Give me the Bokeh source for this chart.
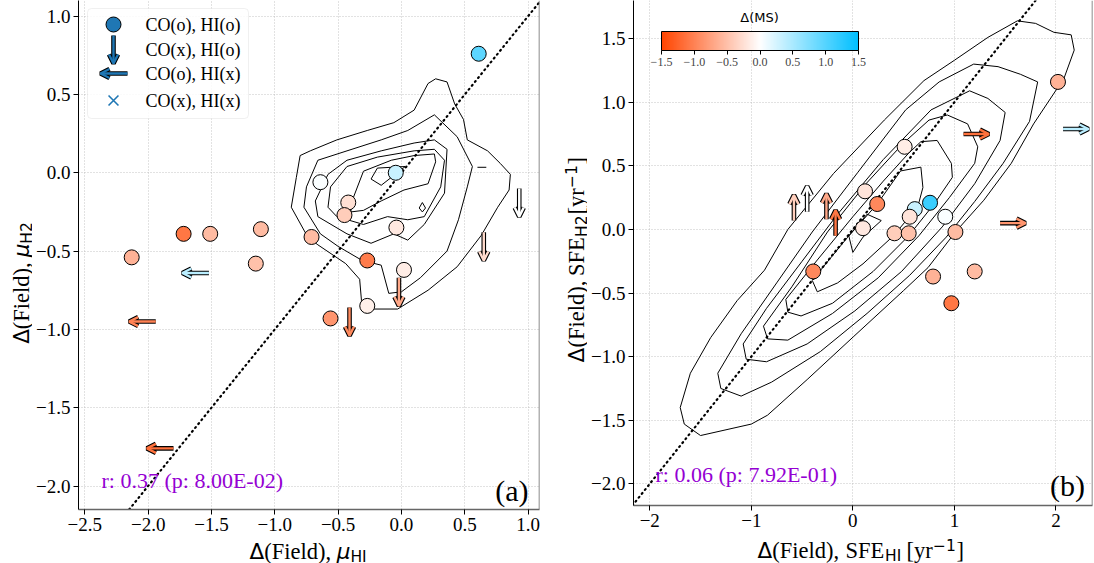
from bokeh.plotting import figure
from bokeh.layouts import row, column
from bokeh.models import (Range1d, FixedTicker, Label, Arrow, OpenHead, Span, Slope, ColorBar,
                          LinearColorMapper, BoxAnnotation, CustomJSTickFormatter, ColumnDataSource)
from bokeh.transform import linear_cmap
from bokeh.embed import file_html
from bokeh.resources import INLINE

SERIF = "Liberation Serif"
SANS = "DejaVu Sans"
BLUE = "#1f77b4"
STAT_COLOR = "#9400d3"
ROT = 1.5707963267948966

# ---------------------------------------------------------------- data
# Panel (a): offsets from the field relation, mu_HI vs mu_H2
a_det_hi = [0.61, -0.045, -0.64, -0.42, -0.45, -0.71, -0.04, -0.27, 0.02, -0.27, -0.56, -1.11, -1.15, -1.51, -1.72, -2.13]
a_det_h2 = [0.76, 0.00, -0.06, -0.19, -0.27, -0.41, -0.35, -0.56, -0.62, -0.85, -0.93, -0.36, -0.58, -0.39, -0.39, -0.54]
a_det_ms = [0.95, 0.32, 0.03, -0.25, -0.40, -0.55, -0.18, -1.05, -0.15, -0.12, -0.85, -0.55, -0.50, -0.55, -1.10, -0.62]
# CO non-detections (upper limits in H2)
a_coul_hi = [0.93, 0.65, -0.02, -0.41]
a_coul_h2 = [-0.10, -0.38, -0.67, -0.86]
a_coul_ms = [0.00, -0.30, -0.70, -0.95]
# HI non-detections (upper limits in HI)
a_hiul_hi = [-1.52, -1.94, -1.80]
a_hiul_h2 = [-0.64, -0.95, -1.76]
a_hiul_ms = [0.40, -1.00, -1.15]
a_stat = (0.37, 8.00e-02)

# Panel (b): offsets from the field relation, SFE_HI vs SFE_H2
b_det_hi = [2.02, 0.51, 0.12, 0.24, 0.61, 0.76, 0.56, 0.10, 0.41, 0.55, 0.91, 1.01, -0.39, 0.79, 1.20, 0.97]
b_det_h2 = [1.16, 0.65, 0.30, 0.20, 0.16, 0.21, 0.10, 0.01, -0.03, -0.03, 0.10, -0.02, -0.33, -0.37, -0.33, -0.58]
b_det_ms = [-0.62, -0.15, -0.22, -0.95, 0.32, 1.15, -0.22, -0.18, -0.40, -0.50, 0.03, -0.55, -0.95, -0.62, -0.55, -1.10]
# CO non-detections (lower limits in SFE_H2)
b_coul_hi = [-0.58, -0.45, -0.26, -0.17]
b_coul_h2 = [0.07, 0.14, 0.08, -0.05]
b_coul_ms = [-0.40, 0.00, -0.70, -1.10]
# HI non-detections (lower limits in SFE_HI)
b_hiul_hi = [1.09, 1.45, 2.07]
b_hiul_h2 = [0.75, 0.05, 0.79]
b_hiul_ms = [-1.15, -0.85, 0.40]
b_stat = (0.06, 7.92e-01)

# Field-sample density contours (outer to inner)
a_contour_x = [
    [0.27, 0.36, 0.42, 0.49, 0.52, 0.68, 0.78, 0.86, 0.85, 0.76, 0.63, 0.44, 0.21, -0.03, -0.31, -0.33, -0.44, -0.66, -0.74, -0.87, -0.83, -0.80, -0.72, -0.51, -0.27, -0.06, 0.10, 0.21, 0.27],
    [0.26, 0.44, 0.56, 0.52, 0.45, 0.36, 0.15, 0.00, -0.10, -0.16, -0.31, -0.50, -0.64, -0.77, -0.75, -0.66, -0.43, -0.16, 0.05, 0.26],
    [0.26, 0.36, 0.34, 0.18, 0.05, -0.06, -0.24, -0.43, -0.66, -0.68, -0.58, -0.43, -0.16, 0.10, 0.26],
    [0.26, 0.34, 0.31, 0.18, 0.05, -0.11, -0.30, -0.51, -0.58, -0.56, -0.43, -0.19, 0.10, 0.26],
    [0.26, 0.27, 0.21, 0.02, -0.16, -0.30, -0.40, -0.39, -0.30, -0.08, 0.10, 0.26],
    [-0.24, -0.19, 0.03, -0.16, -0.24],
    [0.165, 0.19, 0.165, 0.14, 0.165],
    [0.60, 0.67],
]
a_contour_y = [
    [0.60, 0.58, 0.44, 0.34, 0.21, 0.14, 0.06, -0.01, -0.11, -0.22, -0.40, -0.60, -0.75, -0.87, -0.87, -0.68, -0.58, -0.46, -0.41, -0.22, -0.03, 0.11, 0.14, 0.21, 0.27, 0.32, 0.40, 0.57, 0.60],
    [0.37, 0.23, 0.04, -0.09, -0.30, -0.50, -0.67, -0.76, -0.77, -0.59, -0.56, -0.47, -0.39, -0.22, -0.09, 0.08, 0.14, 0.21, 0.27, 0.37],
    [0.21, 0.15, -0.13, -0.33, -0.43, -0.39, -0.45, -0.39, -0.28, -0.18, -0.01, 0.08, 0.14, 0.19, 0.21],
    [0.15, 0.08, -0.09, -0.28, -0.30, -0.28, -0.33, -0.28, -0.22, -0.09, 0.04, 0.10, 0.14, 0.15],
    [0.12, 0.07, -0.07, -0.11, -0.18, -0.24, -0.25, -0.18, 0.01, 0.08, 0.11, 0.12],
    [-0.04, 0.03, 0.04, -0.08, -0.04],
    [-0.19, -0.225, -0.25, -0.225, -0.19],
    [0.035, 0.035],
]
b_contour_x = [
    [-1.70, -1.60, -1.40, -1.14, -0.87, -0.64, -0.19, 0.31, 0.70, 1.00, 1.33, 1.62, 1.80, 1.98, 2.15, 2.18, 2.08, 1.78, 1.56, 1.29, 1.01, 0.74, 0.50, 0.01, -0.45, -0.84, -1.00, -1.50, -1.66, -1.70],
    [-1.33, -1.10, -0.75, -0.40, 0.05, 0.52, 0.85, 1.19, 1.43, 1.65, 1.82, 1.74, 1.48, 1.20, 0.92, 0.56, 0.14, -0.32, -0.80, -1.10, -1.30, -1.33],
    [-1.08, -0.85, -0.50, -0.15, 0.30, 0.77, 1.15, 1.33, 1.50, 1.45, 1.20, 0.88, 0.48, 0.02, -0.45, -0.85, -1.05, -1.08],
    [-0.88, -0.60, -0.25, 0.13, 0.50, 0.75, 0.93, 1.13, 1.23, 1.20, 0.95, 0.65, 0.25, -0.20, -0.64, -0.84, -0.88],
    [-0.66, -0.35, 0.00, 0.30, 0.55, 0.67, 0.83, 0.97, 0.98, 0.80, 0.55, 0.20, -0.20, -0.51, -0.64, -0.66],
    [-0.40, -0.05, 0.24, 0.47, 0.67, 0.69, 0.64, 0.40, 0.10, -0.15, -0.35, -0.40],
    [0.00, -0.04, 0.14, 0.28, 0.10, 0.00],
]
b_contour_y = [
    [-1.40, -1.13, -0.85, -0.56, -0.32, 0.00, 0.44, 0.86, 1.17, 1.33, 1.51, 1.64, 1.62, 1.55, 1.53, 1.41, 1.19, 0.83, 0.52, 0.23, -0.02, -0.30, -0.48, -0.84, -1.18, -1.46, -1.53, -1.62, -1.53, -1.40],
    [-1.13, -0.82, -0.42, -0.02, 0.45, 0.94, 1.16, 1.30, 1.28, 1.22, 1.16, 0.85, 0.52, 0.22, -0.06, -0.36, -0.66, -0.96, -1.20, -1.31, -1.25, -1.13],
    [-0.90, -0.62, -0.25, 0.12, 0.55, 0.94, 1.09, 1.03, 0.92, 0.70, 0.36, 0.02, -0.33, -0.64, -0.90, -1.04, -1.02, -0.90],
    [-0.76, -0.45, -0.02, 0.36, 0.68, 0.86, 0.90, 0.83, 0.65, 0.52, 0.25, -0.05, -0.38, -0.66, -0.87, -0.86, -0.76],
    [-0.55, -0.24, 0.10, 0.38, 0.60, 0.69, 0.70, 0.52, 0.41, 0.20, -0.05, -0.33, -0.58, -0.68, -0.65, -0.55],
    [-0.40, -0.06, 0.20, 0.46, 0.49, 0.33, 0.18, -0.05, -0.27, -0.42, -0.49, -0.40],
    [-0.18, -0.05, 0.12, 0.07, -0.06, -0.18],
]

a_xticks = [-2.5, -2.0, -1.5, -1.0, -0.5, 0.0, 0.5, 1.0]
a_yticks = [-2.0, -1.5, -1.0, -0.5, 0.0, 0.5, 1.0]
b_xticks = [-2, -1, 0, 1, 2]
b_yticks = [-2.0, -1.5, -1.0, -0.5, 0.0, 0.5, 1.0, 1.5]
cbar_ticks = [-1.5, -1.0, -0.5, 0.0, 0.5, 1.0, 1.5]
MS_LOW, MS_HIGH = -1.5, 1.5

legend_labels = ["CO(o), HI(o)", "CO(x), HI(o)", "CO(o), HI(x)", "CO(x), HI(x)"]

# page geometry (pixels)
PAGE_H = 563
YA_W, YB_W = 32, 38
BORDER_L, BORDER_B = 46, 32
# the rendered alphabetic baseline sits this fraction of the font size below the anchor
BASELINE_SHIFT = 0.24


# ---------------------------------------------------------------- colours
def _mix(c1, c2, t):
    return tuple(int(round(a + (b - a) * t)) for a, b in zip(c1, c2))


def build_palette(n=256):
    red, white, blue = (255, 69, 0), (255, 255, 255), (0, 191, 255)
    out = []
    for i in range(n):
        t = i / (n - 1)
        c = _mix(red, white, t / 0.5) if t <= 0.5 else _mix(white, blue, (t - 0.5) / 0.5)
        out.append("#%02x%02x%02x" % c)
    return out


PALETTE = build_palette()


def ms_color(v):
    t = (min(max(v, MS_LOW), MS_HIGH) - MS_LOW) / (MS_HIGH - MS_LOW)
    return PALETTE[int(round(t * (len(PALETTE) - 1)))]


def tick_fmt(decimals):
    return CustomJSTickFormatter(code="return tick.toFixed(%d).replace('-', '\u2212');" % decimals)


def bare_figure(w, h, xr, yr, bl=0, br=0, bb=0, bt=0):
    p = figure(width=w, height=h, x_range=Range1d(*xr), y_range=Range1d(*yr),
               x_axis_location=None, y_axis_location=None, toolbar_location=None,
               output_backend="svg", min_border_left=bl, min_border_right=br,
               min_border_bottom=bb, min_border_top=bt, title=None)
    p.grid.visible = False
    p.outline_line_color = None
    p.background_fill_color = "white"
    p.border_fill_color = "white"
    return p


def place(fig, conv, px, py, s, font=SERIF, size=22.5, style="normal", angle=0.0,
          align="left", baseline="alphabetic", color="black"):
    """Put a text at page pixel (px, py); conv maps page pixels to the figure's data space."""
    if baseline == "alphabetic":
        if angle:
            px -= BASELINE_SHIFT * size
        else:
            py -= BASELINE_SHIFT * size
    x, y = conv(px, py)
    fig.add_layout(Label(x=x, y=y, text=s, text_font=font, text_font_size="%gpx" % size,
                         text_font_style=style, text_align=align, text_baseline=baseline,
                         angle=angle, text_color=color))


# ---------------------------------------------------------------- panels
class Panel:
    def __init__(self, left, fw, fh, xr, yr, br, xticks, yticks, xdec, ydec):
        self.left, self.fw, self.fh, self.xr, self.yr, self.br = left, fw, fh, xr, yr, br
        p = figure(x_range=Range1d(*xr), y_range=Range1d(*yr), frame_width=fw, frame_height=fh,
                   min_border_left=BORDER_L, min_border_right=br, min_border_bottom=BORDER_B,
                   min_border_top=0, output_backend="svg", toolbar_location=None, title=None)
        p.outline_line_color = None
        p.background_fill_color = "white"
        p.border_fill_color = "white"
        p.xaxis.ticker = FixedTicker(ticks=xticks)
        p.yaxis.ticker = FixedTicker(ticks=yticks)
        p.xaxis.formatter = tick_fmt(xdec)
        p.yaxis.formatter = tick_fmt(ydec)
        p.grid.grid_line_color = "#b5b5b5"
        p.grid.grid_line_dash = "1 2"
        p.grid.grid_line_width = 0.8
        for ax in list(p.xaxis) + list(p.yaxis):
            ax.major_tick_in = 0
            ax.major_tick_out = 5
            ax.major_tick_line_color = "black"
            ax.minor_tick_line_color = None
            ax.major_label_text_font = SERIF
            ax.major_label_text_font_size = "19px"
            ax.major_label_text_color = "black"
            ax.major_label_standoff = 3
        p.yaxis.axis_line_color = "black"
        p.xaxis.axis_line_color = "#666666"
        p.xaxis.axis_line_width = 1.5
        p.add_layout(Span(location=xr[1], dimension="height", line_color="#666666", line_width=1.5))
        p.add_layout(Slope(gradient=1, y_intercept=0, line_color="black", line_width=2.2,
                           line_dash="1 4", line_cap="round", level="underlay"))
        self.fig = p

    def dx(self, px):
        return self.xr[0] + (px - self.left) / self.fw * (self.xr[1] - self.xr[0])

    def dy(self, py):
        return self.yr[1] - py / self.fh * (self.yr[1] - self.yr[0])

    def data(self, px, py):
        return self.dx(px), self.dy(py)

    def text(self, px, py, s, **kw):
        place(self.fig, self.data, px, py, s, **kw)

    def arrow(self, x0, y0, x1, y1, color, lw=2.4, head=9):
        for w, c in ((lw + 2.2, "black"), (lw, color)):
            self.fig.add_layout(Arrow(x_start=x0, y_start=y0, x_end=x1, y_end=y1,
                                      line_color=c, line_width=w,
                                      end=OpenHead(size=head, line_color=c, line_width=w)))

    def contours(self, xs, ys):
        self.fig.multi_line(xs=xs, ys=ys, line_color="black", line_width=1)

    def points(self, x, y, ms):
        src = ColumnDataSource(data=dict(x=x, y=y, ms=ms))
        self.fig.scatter(x="x", y="y", size=15, line_color="black", line_width=1,
                         fill_color=linear_cmap("ms", PALETTE, MS_LOW, MS_HIGH), source=src)

    def xtitle_strip(self):
        """Strip under the panel sharing its horizontal frame, for the x-axis title."""
        h = PAGE_H - self.fh - BORDER_B
        top = PAGE_H - h
        strip = bare_figure(BORDER_L + self.fw + self.br, h, self.xr, (h, 0),
                            bl=BORDER_L, br=self.br)
        return strip, (lambda px, py: (self.dx(px), py - top))

    def ytitle_strip(self, w, page_left):
        """Strip left of the panel sharing its vertical frame, for the y-axis title."""
        strip = bare_figure(w, PAGE_H, (0, w), self.yr, bb=PAGE_H - self.fh)
        return strip, (lambda px, py: (px - page_left, self.dy(py)))


def stat_text(r, pval):
    return "r: %.2f (p: %.2E)" % (r, pval)


# ------------------------------------------------------------ panel (a)
A = Panel(left=YA_W + BORDER_L, fw=461, fh=509, xr=(-2.55, 1.09), yr=(-2.15, 1.10), br=10,
          xticks=a_xticks, yticks=a_yticks, xdec=1, ydec=1)
A.contours(a_contour_x, a_contour_y)
A.points(a_det_hi, a_det_h2, a_det_ms)
DY_A, DX_A = 0.18, 0.21
for x, y, m in zip(a_coul_hi, a_coul_h2, a_coul_ms):
    A.arrow(x, y, x, y - DY_A, ms_color(m))
for x, y, m in zip(a_hiul_hi, a_hiul_h2, a_hiul_ms):
    A.arrow(x, y, x - DX_A, y, ms_color(m))

# legend
lx0, ly0 = A.data(87, 8)
lx1, ly1 = A.data(248, 118)
A.fig.add_layout(BoxAnnotation(left=lx0, right=lx1, top=ly0, bottom=ly1, fill_color="white",
                               fill_alpha=0.85, line_color="#cccccc", line_width=1,
                               border_radius=4, level="underlay"))
sx, sy = A.data(113, 24)
A.fig.scatter(x=[sx], y=[sy], size=15, fill_color=BLUE, line_color="black", line_width=1)
dx0, dy0 = A.data(113, 35)
dx1, dy1 = A.data(113, 63)
A.arrow(dx0, dy0, dx1, dy1, BLUE)
hx0, hy0 = A.data(127, 73)
hx1, hy1 = A.data(100, 73)
A.arrow(hx0, hy0, hx1, hy1, BLUE)
xx, xy = A.data(113, 100)
A.fig.scatter(x=[xx], y=[xy], marker="x", size=14, line_color=BLUE, line_width=1.6)
for lab, ypx in zip(legend_labels, [24, 49, 73, 100]):
    A.text(145, ypx, lab, size=18, baseline="middle")

A.text(101, 485, stat_text(*a_stat), size=22, color=STAT_COLOR)
A.text(528, 497, "(a)", size=30, align="right")

# ------------------------------------------------------------ panel (b)
b_left = YA_W + BORDER_L + 461 + 10 + YB_W + BORDER_L
B = Panel(left=b_left, fw=1094 - b_left - 2, fh=505, xr=(-2.16, 2.36), yr=(-2.17, 1.80), br=2,
          xticks=b_xticks, yticks=b_yticks, xdec=0, ydec=1)
B.contours(b_contour_x, b_contour_y)
B.points(b_det_hi, b_det_h2, b_det_ms)
DY_B, DX_B = 0.20, 0.25
for x, y, m in zip(b_coul_hi, b_coul_h2, b_coul_ms):
    B.arrow(x, y, x, y + DY_B, ms_color(m))
for x, y, m in zip(b_hiul_hi, b_hiul_h2, b_hiul_ms):
    B.arrow(x, y, x + DX_B, y, ms_color(m))

mapper = LinearColorMapper(palette=PALETTE, low=MS_LOW, high=MS_HIGH)
cbar = ColorBar(color_mapper=mapper, orientation="horizontal", location=(28, 437), width=197, height=19,
                ticker=FixedTicker(ticks=cbar_ticks), formatter=tick_fmt(1),
                major_label_text_font=SERIF, major_label_text_font_size="12px", label_standoff=3,
                major_tick_out=4, major_tick_in=0, major_tick_line_color="black",
                minor_tick_line_color=None, bar_line_color="black", border_line_color=None,
                background_fill_alpha=0, padding=0)
B.fig.add_layout(cbar)
B.text(759, 17, "\u0394(MS)", font=SANS, size=13, align="center", baseline="middle")

B.text(655, 479, stat_text(*b_stat), size=22, color=STAT_COLOR)
B.text(1084.5, 492, "(b)", size=30, align="right")

# ------------------------------------------------------------ axis titles
SUB = 15.5
XA, xa = A.xtitle_strip()
for px, py, s, kw in [(249, 556, "\u0394", dict(font=SANS, size=21.5)),
                      (263.7, 556, "(Field),", {}),
                      (336.2, 556, "\u03bc", dict(font=SANS, size=21.5, style="italic")),
                      (349.9, 560, "HI", dict(font=SANS, size=SUB))]:
    place(XA, xa, px, py, s, **kw)

XB, xb = B.xtitle_strip()
for px, py, s, kw in [(757, 555, "\u0394", dict(font=SANS, size=21.5)),
                      (771.8, 555, "(Field),", {}),
                      (845, 555, "SFE", {}),
                      (884.5, 559.5, "HI", dict(font=SANS, size=SUB)),
                      (906, 555, "[yr", {}),
                      (932.5, 548.5, "\u22121", dict(font=SANS, size=SUB)),
                      (956, 555, "]", {})]:
    place(XB, xb, px, py, s, **kw)

YA, ya = A.ytitle_strip(YA_W, 0)
ya0 = 346
for px, py, s, kw in [(26.5, ya0, "\u0394", dict(font=SANS, size=21.5)),
                      (26.5, ya0 - 14.7, "(Field),", {}),
                      (26.5, ya0 - 87.2, "\u03bc", dict(font=SANS, size=21.5, style="italic")),
                      (30.5, ya0 - 100.9, "H2", dict(font=SANS, size=SUB))]:
    place(YA, ya, px, py, s, angle=ROT, **kw)

yb_left = YA_W + BORDER_L + 461 + 10
YB, yb = B.ytitle_strip(YB_W, yb_left)
yb0 = 362
for px, py, s, kw in [(581, yb0, "\u0394", dict(font=SANS, size=21.5)),
                      (581, yb0 - 14.9, "(Field),", {}),
                      (581, yb0 - 86.5, "SFE", {}),
                      (585, yb0 - 125.5, "H2", dict(font=SANS, size=SUB)),
                      (581, yb0 - 148, "[yr", {}),
                      (574, yb0 - 174.5, "\u22121", dict(font=SANS, size=SUB)),
                      (581, yb0 - 198, "]", {})]:
    place(YB, yb, px, py, s, angle=ROT, **kw)

layout = row(YA, column(A.fig, XA), YB, column(B.fig, XB))
open("out.html", "w").write(file_html(layout, INLINE))
